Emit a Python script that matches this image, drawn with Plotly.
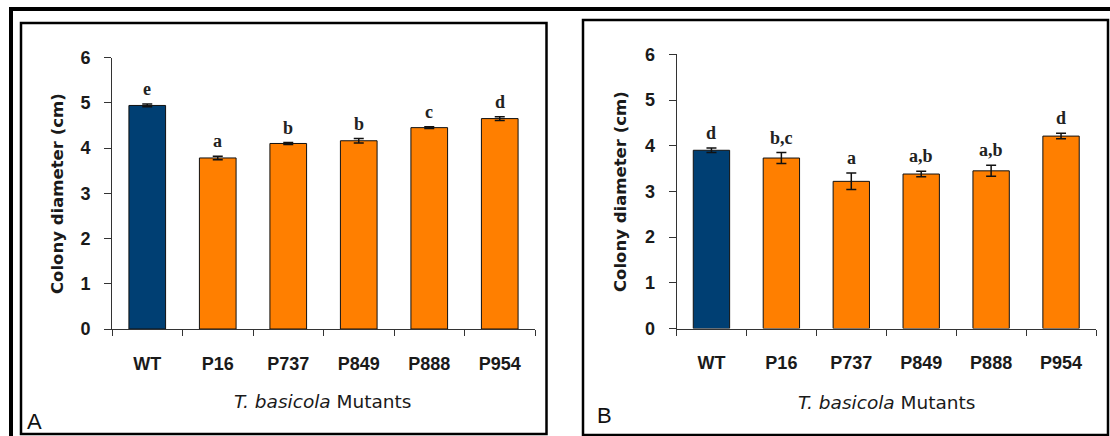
import plotly.graph_objects as go

W, H = 1110, 436

categories = ["WT", "P16", "P737", "P849", "P888", "P954"]

values_a = [4.94, 3.78, 4.10, 4.16, 4.45, 4.65]
errors_a = [0.03, 0.04, 0.02, 0.05, 0.02, 0.04]
letters_a = ["e", "a", "b", "b", "c", "d"]

values_b = [3.90, 3.73, 3.22, 3.38, 3.45, 4.21]
errors_b = [0.05, 0.12, 0.18, 0.06, 0.12, 0.06]
letters_b = ["d", "b,c", "a", "a,b", "a,b", "d"]

y_ticks = [0, 1, 2, 3, 4, 5, 6]

colors = ["#003F73"] + ["#FF7F00"] * 5


def px(x):
    return x / W


def py(y):
    return 1 - y / H


fig = go.Figure()

for vals, errs, xa, ya in [(values_a, errors_a, "x", "y"), (values_b, errors_b, "x2", "y2")]:
    fig.add_trace(go.Bar(
        x=categories, y=vals, xaxis=xa, yaxis=ya, width=0.52,
        marker=dict(color=colors, line=dict(color="#111111", width=1)),
        error_y=dict(type="data", array=errs, visible=True, color="#111111",
                     thickness=1.5, width=5),
        showlegend=False,
    ))

tickfont = dict(family="Liberation Sans, Arial, sans-serif", size=18, color="#1a1a1a", weight="bold")

xcommon = dict(type="category", range=[-0.5, 5.5], showline=True, linecolor="#333333", linewidth=1,
               ticks="outside", ticklen=6, tickwidth=1, tickcolor="#333333", tickson="boundaries",
               tickfont=tickfont, ticklabelstandoff=18, showgrid=False, zeroline=False,
               fixedrange=True, automargin=False)
ycommon = dict(range=[0, 6], tickvals=y_ticks, showline=True, linecolor="#333333", linewidth=1,
               ticks="outside", ticklen=7, tickwidth=1, tickcolor="#333333",
               tickfont=tickfont, ticklabelstandoff=10, showgrid=False, zeroline=False,
               fixedrange=True, automargin=False)

fig.update_layout(
    width=W, height=H, autosize=False,
    margin=dict(l=0, r=0, t=0, b=0, pad=0, autoexpand=False),
    paper_bgcolor="white", plot_bgcolor="white",
    xaxis=dict(domain=[px(112), px(535)], anchor="y", **xcommon),
    yaxis=dict(domain=[py(329), py(57.5)], anchor="x", **ycommon),
    xaxis2=dict(domain=[px(676.5), px(1096)], anchor="y2", **xcommon),
    yaxis2=dict(domain=[py(328.5), py(54.3)], anchor="x2", **ycommon),
)

annotations = []
for vals, errs, lets, xa, ya in [(values_a, errors_a, letters_a, "x", "y"),
                                  (values_b, errors_b, letters_b, "x2", "y2")]:
    for c, v, e, t in zip(categories, vals, errs, lets):
        annotations.append(dict(
            x=c, y=v + e, xref=xa, yref=ya, text=t, showarrow=False,
            yanchor="bottom", yshift=3,
            font=dict(family="Liberation Serif, Times New Roman, serif", size=18,
                      color="#222222", weight="bold"),
        ))

ytitle_font = dict(family="DejaVu Sans, Liberation Sans, sans-serif", size=16.5, color="#1a1a1a", weight="bold")
xtitle_font = dict(family="DejaVu Sans, Liberation Sans, sans-serif", size=18.5, color="#1a1a1a")

for xc, yc in [(57, 194), (620, 192)]:
    annotations.append(dict(x=px(xc), y=py(yc), xref="paper", yref="paper",
                            text="Colony diameter (cm)", textangle=-90, showarrow=False,
                            xanchor="center", yanchor="middle", font=ytitle_font))

for xc, yc in [(322, 401), (886, 402)]:
    annotations.append(dict(x=px(xc), y=py(yc), xref="paper", yref="paper",
                            text="<i>T. basicola</i> Mutants", showarrow=False,
                            xanchor="center", yanchor="middle", font=xtitle_font))

for t, xc, yc in [("A", 34, 421), ("B", 604, 415)]:
    annotations.append(dict(x=px(xc), y=py(yc), xref="paper", yref="paper",
                            text=t, showarrow=False, xanchor="center", yanchor="middle",
                            font=dict(family="Liberation Sans, Arial, sans-serif", size=22, color="#111111")))

fig.update_layout(annotations=annotations)

shapes = [
    dict(type="rect", xref="paper", yref="paper", x0=px(11), y0=py(9), x1=px(1125), y1=py(450),
         line=dict(color="#000000", width=4)),
    dict(type="rect", xref="paper", yref="paper", x0=px(21), y0=py(23), x1=px(546.5), y1=py(434),
         line=dict(color="#000000", width=2.5)),
    dict(type="rect", xref="paper", yref="paper", x0=px(583), y0=py(20), x1=px(1108), y1=py(435),
         line=dict(color="#000000", width=2.5)),
]
fig.update_layout(shapes=shapes)

fig.write_html("out.html", config={"responsive": False, "displayModeBar": False},
               post_script="document.body.style.margin='0';document.body.style.overflow='hidden';")
